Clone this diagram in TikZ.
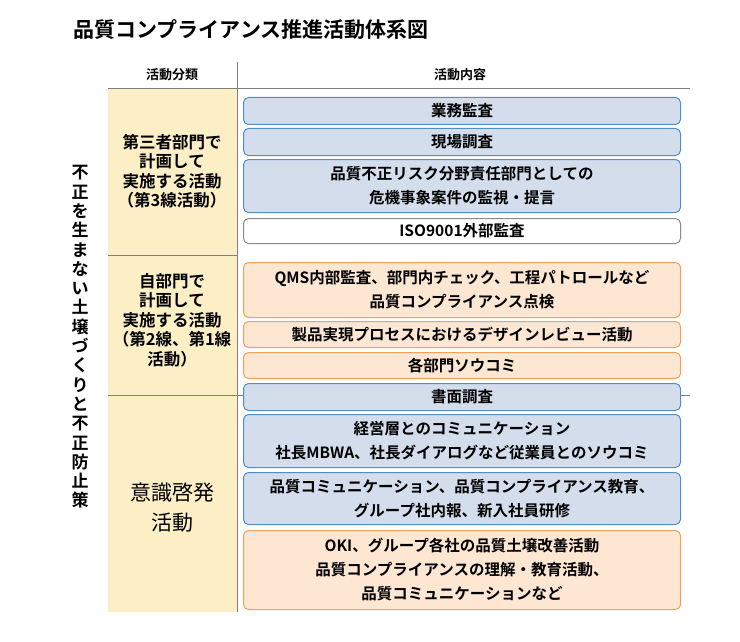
\documentclass[tikz,border=0pt]{standalone}
\usepackage{fontspec}
\setmainfont{Noto Sans CJK JP}[BoldFont={* Bold}]
\definecolor{bfill}{HTML}{D3DDEC}\definecolor{bline}{HTML}{4F8FC6}
\definecolor{ofill}{HTML}{FDE6D2}\definecolor{oline}{HTML}{EFA25A}
\definecolor{yfill}{HTML}{FCEFC6}\definecolor{wline}{HTML}{8A8A8A}
\begin{document}
\begin{tikzpicture}[x=1pt,y=-1pt,
  box/.style={draw,line width=1pt,rounded corners=5pt,minimum width=437pt,anchor=north west,align=center,font=\bfseries\fontsize{15.5}{24}\selectfont,inner sep=0pt},
  bbox/.style={box,fill=bfill,draw=bline},
  obox/.style={box,fill=ofill,draw=oline},
  wbox/.style={box,fill=white,draw=wline},
  grp/.style={align=center,font=\bfseries\fontsize{16.5}{19.5}\selectfont},
  hdr/.style={font=\bfseries\fontsize{13}{15}\selectfont}]
\useasboundingbox (0,0) rectangle (740,642);
\node[anchor=west,font=\bfseries\fontsize{21}{24}\selectfont] (title) at (70,30) {品質コンプライアンス推進活動体系図};
\fill[yfill] (108,88) rectangle (237,612);
\draw[gray,line width=0.8pt] (237,62) -- (237,612);
\draw[gray,line width=0.8pt] (108,88) -- (690,88);
\draw[gray,line width=0.8pt] (108,255) -- (237,255);
\draw[gray,line width=0.8pt] (108,395) -- (690,395);
\node[hdr] (h1) at (172,75) {活動分類};
\node[hdr] (h2) at (460,75) {活動内容};
\node[align=center,font=\bfseries\fontsize{17}{19.3}\selectfont] (v) at (80,337) {不\\正\\を\\生\\ま\\な\\い\\土\\壌\\づ\\く\\り\\と\\不\\正\\防\\止\\策};
\node[grp] (g1) at (172,171) {第三者部門で\\計画して\\実施する活動\\（第3線活動）};
\node[grp] (g2) at (172,320) {自部門で\\計画して\\実施する活動\\（第2線、第1線\\活動）};
\node[grp,font=\fontsize{21}{30}\selectfont] (g3) at (172,508) {意識啓発\\活動};
\node[bbox,minimum height=27pt] (b1) at (243,97) {業務監査};
\node[bbox,minimum height=27pt] (b2) at (243,128) {現場調査};
\node[bbox,minimum height=53pt] (b3) at (243,159) {品質不正リスク分野責任部門としての\\危機事象案件の監視・提言};
\node[wbox,minimum height=25pt] (b4) at (243,218) {ISO9001外部監査};
\node[obox,minimum height=55pt] (b5) at (243,262) {QMS内部監査、部門内チェック、工程パトロールなど\\品質コンプライアンス点検};
\node[obox,minimum height=26pt] (b6) at (243,321) {製品実現プロセスにおけるデザインレビュー活動};
\node[obox,minimum height=26pt] (b7) at (243,352) {各部門ソウコミ};
\node[bbox,minimum height=27pt] (b8) at (243,383) {書面調査};
\node[bbox,minimum height=53pt] (b9) at (243,414) {経営層とのコミュニケーション\\社長MBWA、社長ダイアログなど従業員とのソウコミ};
\node[bbox,minimum height=52pt] (b10) at (243,472) {品質コミュニケーション、品質コンプライアンス教育、\\グループ社内報、新入社員研修};
\node[obox,minimum height=79pt] (b11) at (243,530) {OKI、グループ各社の品質土壌改善活動\\品質コンプライアンスの理解・教育活動、\\品質コミュニケーションなど};
\end{tikzpicture}
\end{document}
